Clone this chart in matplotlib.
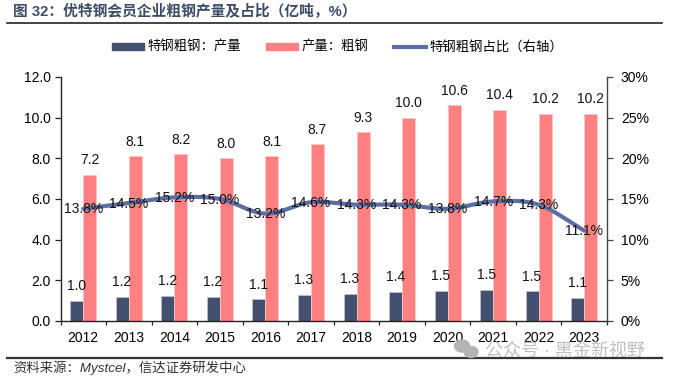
import numpy as np
from matplotlib import pyplot as plt
from matplotlib.lines import Line2D
from matplotlib.patches import Patch, Ellipse

plt.rcParams['font.family'] = ['Liberation Sans', 'Noto Sans CJK SC', 'DejaVu Sans']

years = ['2012', '2013', '2014', '2015', '2016', '2017', '2018', '2019', '2020', '2021', '2022', '2023']
special = [0.98, 1.18, 1.24, 1.2, 1.07, 1.27, 1.33, 1.42, 1.47, 1.53, 1.46, 1.13]
special_lab = ['1.0', '1.2', '1.2', '1.2', '1.1', '1.3', '1.3', '1.4', '1.5', '1.5', '1.5', '1.1']
crude = [7.2, 8.1, 8.2, 8.0, 8.1, 8.7, 9.3, 10.0, 10.6, 10.4, 10.2, 10.2]
share = [13.8, 14.5, 15.2, 15.0, 13.2, 14.6, 14.3, 14.3, 13.8, 14.7, 14.3, 11.1]
yticks_left = [0, 2, 4, 6, 8, 10, 12]
yticks_right = [0, 5, 10, 15, 20, 25, 30]

title = '图 32：优特钢会员企业粗钢产量及占比（亿吨，%）'
source = '资料来源：Mystcel，信达证券研发中心'
watermark = '公众号 · 黑金新视野'

W, H = 675, 377
fig = plt.figure(figsize=(W / 100, H / 100), dpi=100)
ax = fig.add_axes([60.5 / W, 1 - 321 / H, (607 - 60.5) / W, (321 - 77) / H])
x = np.arange(len(years))
bw = 0.285
navy = '#44506F'
red = '#FF8080'
blue = '#5B6FA5'

ax.bar(x - bw / 2, special, bw, color=navy, edgecolor='#C9CCD6', linewidth=0.4)
ax.bar(x + bw / 2, crude, bw, color=red, edgecolor='#FFC4C4', linewidth=0.6)
ax.set_xlim(-0.5, 11.5)
ax.set_ylim(0, 12)
ax.set_yticks(yticks_left)
ax.set_yticklabels(['%.1f' % v for v in yticks_left], fontsize=10)
ax.set_xticks(np.arange(-0.5, 12, 1))
ax.set_xticklabels([])
ax.set_xticks(x, minor=True)
ax.set_xticklabels(years, minor=True, fontsize=10)
ax.tick_params(axis='x', which='minor', length=0, pad=7)
ax.tick_params(axis='x', which='major', length=3, width=0.9, direction='out', color='#222222')
ax.tick_params(axis='y', length=4, width=0.9, direction='out', pad=3, color='#222222')
ax.spines['top'].set_visible(False)
ax.spines['right'].set_visible(False)
for s in ['left', 'bottom']:
    ax.spines[s].set_linewidth(1)
    ax.spines[s].set_color('#222222')

for i in range(len(years)):
    ax.text(x[i] - bw / 2 - 0.01, special[i] + 0.38, special_lab[i], ha='center', va='bottom', fontsize=10, color='#111111')
    ax.text(x[i] + bw / 2, crude[i] + 0.36, '%.1f' % crude[i], ha='center', va='bottom', fontsize=10, color='#111111')

ax2 = ax.twinx()
ax2.set_ylim(0, 30)
ax2.set_yticks(yticks_right)
ax2.set_yticklabels(['%d%%' % v for v in yticks_right], fontsize=10)
ax2.tick_params(axis='y', length=4, width=0.9, direction='out', pad=6, color='#444444')
for s in ['top', 'left', 'bottom']:
    ax2.spines[s].set_visible(False)
ax2.spines['right'].set_color('#444444')
ax2.spines['right'].set_linewidth(1)

# smoothed line like excel's, through the read values
t = np.linspace(0, 11, 221)
pts = np.array(share)
m = np.zeros(len(pts))
m[1:-1] = (pts[2:] - pts[:-2]) / 2
m[0] = pts[1] - pts[0]
m[-1] = pts[-1] - pts[-2]
k = np.minimum(np.floor(t).astype(int), 10)
u = t - k
smooth = ((2 * u**3 - 3 * u**2 + 1) * pts[k] + (u**3 - 2 * u**2 + u) * m[k]
          + (-2 * u**3 + 3 * u**2) * pts[k + 1] + (u**3 - u**2) * m[k + 1])
ax2.plot(t, smooth, color=blue, linewidth=3, solid_capstyle='round', zorder=3)

for i in range(len(years)):
    ax2.text(x[i], share[i] - 0.08, '%.1f%%' % share[i], ha='center', va='center', fontsize=10, color='#111111', zorder=4)

# legend
handles = [Patch(color=navy), Patch(color=red), Line2D([0], [0], color=blue, linewidth=3)]
fig.legend(handles, ['特钢粗钢：产量', '产量：粗钢', '特钢粗钢占比（右轴）'], loc='center', ncol=3, frameon=False,
           bbox_to_anchor=(337.5 / W, 1 - 47.5 / H), fontsize=9.6, handlelength=2.4, handleheight=0.4,
           columnspacing=1.85, handletextpad=0.3)

fig.text(13 / W, 1 - 12 / H, title, fontsize=10.6, fontweight='bold', color='#3C4C66', va='center', ha='left')
fig.add_artist(Line2D([7 / W, 662 / W], [1 - 23 / H, 1 - 23 / H], color='#222222', linewidth=1.2))
fig.add_artist(Line2D([7 / W, 662 / W], [1 - 358 / H, 1 - 358 / H], color='#333333', linewidth=1.6))
fig.text(13 / W, 1 - 367.5 / H, source, fontsize=9.6, style='italic', color='#333333', va='center', ha='left')

# watermark with the chat icon
for cx, cy, w, h in [(462, 346, 15, 12), (471, 352, 14, 11)]:
    fig.add_artist(Ellipse((cx / W, 1 - cy / H), w / W, h / H, color='#B4B4B4', transform=fig.transFigure, zorder=5))
fig.text(485 / W, 1 - 351.5 / H, watermark, fontsize=13, color='#B5B5B5', alpha=0.85, va='center', ha='left', zorder=5)

fig.savefig('out.png', dpi=100)
